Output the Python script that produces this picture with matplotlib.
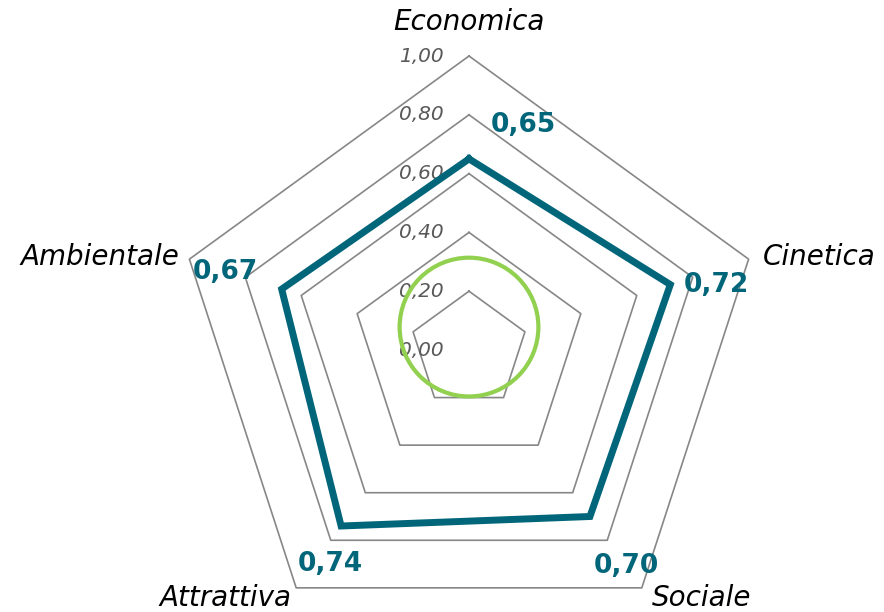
import numpy as np
import matplotlib
matplotlib.use("Agg")
import matplotlib.pyplot as plt
from matplotlib.patches import Circle

# ---- dati ----
categories = ["Economica", "Cinetica", "Sociale", "Attrattiva", "Ambientale"]
values = [0.65, 0.72, 0.70, 0.74, 0.67]
value_labels = ["0,65", "0,72", "0,70", "0,74", "0,67"]
grid_levels = [0.2, 0.4, 0.6, 0.8, 1.0]
tick_labels = ["0,00", "0,20", "0,40", "0,60", "0,80", "1,00"]

teal = "#02667A"
green = "#92D050"
grid_col = "#878787"

# angles clockwise from the top
n = len(categories)
theta = np.arange(n) * 2 * np.pi / n


def to_xy(r, t):
    return r * np.sin(t), r * np.cos(t)


fig = plt.figure(figsize=(8.84, 6.12), dpi=100)
ax = fig.add_axes([0, 0, 1, 1])
scale = 294.0  # pixels per unit radius
cx, cy = 469.0, 262.0  # centre in pixels from bottom-left
ax.set_xlim(-cx / scale, (884 - cx) / scale)
ax.set_ylim(-cy / scale, (612 - cy) / scale)
ax.axis("off")

# pentagon grid
tc = np.append(theta, theta[0])
for lv in grid_levels:
    gx, gy = to_xy(lv, tc)
    ax.plot(gx, gy, color=grid_col, lw=1.2, zorder=1)

# tick labels on the top axis
for i, lab in enumerate(tick_labels):
    r = i * 0.2
    ax.annotate(lab, (0, r), xytext=(-25, 0), textcoords="offset pixels",
                ha="right", va="center", fontsize=14.5, style="italic",
                color="#595959", zorder=2)

# green reference circle
ax.add_patch(Circle((0, 0.078), 0.236, fill=False, ec=green, lw=3, zorder=3))

# data series
vx, vy = to_xy(np.append(values, values[0]), tc)
ax.plot(vx, vy, color=teal, lw=5, solid_joinstyle="miter", zorder=4)

# value labels
label_off = [(54, 34), (46, 0), (36, -50), (-11, -38), (-56, 17)]
for v, t, lab, off in zip(values, theta, value_labels, label_off):
    px, py = to_xy(v, t)
    ax.annotate(lab, (px, py), xytext=off, textcoords="offset pixels",
                ha="center", va="center", fontsize=19, fontweight="bold",
                color=teal, zorder=5)

# category labels
cat_pos = [(0, 0, 34, "center"), (1, 14, 2, "left"),
           (2, 10, -10, "left"), (3, -5, -10, "right"),
           (4, -10, 2, "right")]
for i, ox, oy, ha in cat_pos:
    px, py = to_xy(1.0, theta[i])
    ax.annotate(categories[i], (px, py), xytext=(ox, oy), textcoords="offset pixels",
                ha=ha, va="center", fontsize=20, style="italic", color="black")

fig.savefig("out.png", dpi=100)
